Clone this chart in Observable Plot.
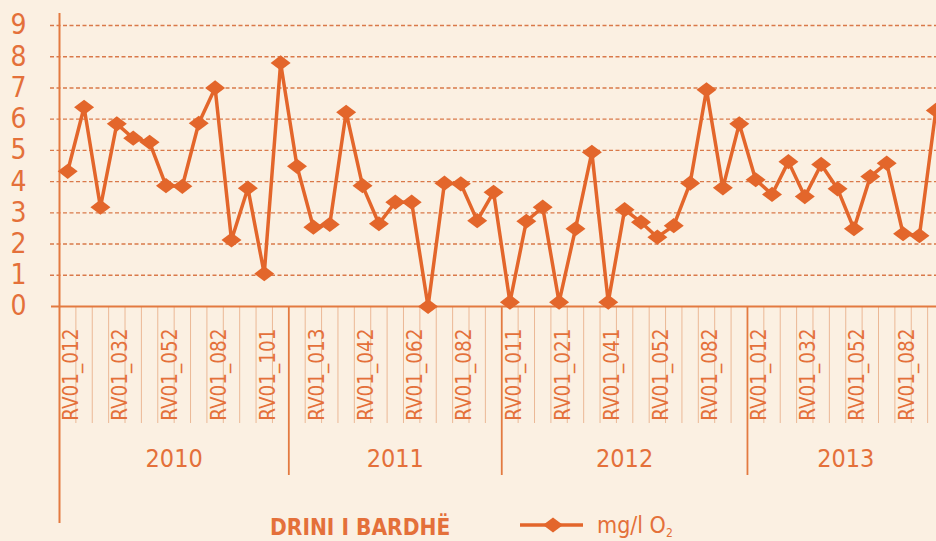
<!DOCTYPE html>
<html><head><meta charset="utf-8">
<script src="https://cdn.jsdelivr.net/npm/d3@7"></script>
<script src="https://cdn.jsdelivr.net/npm/@observablehq/plot@0.6"></script>
<style>
html,body{margin:0;padding:0;background:#fbf0e2;overflow:hidden;width:936px;height:541px}
#wrap{position:relative;width:936px;height:541px}
.lg{position:absolute;font-family:'Liberation Sans Narrow','DejaVu Sans Condensed','Roboto Condensed',sans-serif;color:#e4703a;white-space:nowrap;line-height:1}
</style></head><body><div id="wrap"></div>
<script>
// ---- data ----
const years = ["2010", "2011", "2012", "2013"];
const stations2010 = ["RV01_012","RV01_021","RV01_022","RV01_032","RV01_041","RV01_042","RV01_052","RV01_061","RV01_062","RV01_082","RV01_091","RV01_092","RV01_101","RV01_102"];
const stations2011 = ["RV01_011","RV01_013","RV01_021","RV01_032","RV01_042","RV01_052","RV01_061","RV01_062","RV01_071","RV01_081","RV01_082","RV01_091","RV01_101"];
const stations2012 = ["RV01_011","RV01_012","RV01_013","RV01_021","RV01_022","RV01_032","RV01_041","RV01_042","RV01_051","RV01_052","RV01_061","RV01_062","RV01_082","RV01_091","RV01_101"];
const stations2013 = ["RV01_012","RV01_021","RV01_022","RV01_032","RV01_041","RV01_042","RV01_052","RV01_061","RV01_062","RV01_082","RV01_091","RV01_092"];
const values2010 = [4.33, 6.38, 3.18, 5.85, 5.39, 5.26, 3.87, 3.85, 5.87, 7.0, 2.13, 3.79, 1.05, 7.8];
const values2011 = [4.49, 2.54, 2.63, 6.22, 3.87, 2.65, 3.34, 3.34, 0.0, 3.95, 3.93, 2.75, 3.66];
const values2012 = [0.14, 2.73, 3.18, 0.14, 2.49, 4.94, 0.14, 3.10, 2.70, 2.22, 2.59, 3.95, 6.94, 3.80, 5.85];
const values2013 = [4.06, 3.59, 4.64, 3.52, 4.55, 3.77, 2.49, 4.16, 4.59, 2.33, 2.27, 6.28];
const yTicks = [0, 1, 2, 3, 4, 5, 6, 7, 8, 9];
const labelEvery = 3;
const riverName = "DRINI I BARDHË";
const seriesName = "mg/l O";
const seriesSub = "2";

// ---- build table ----
const stationsByYear = [stations2010, stations2011, stations2012, stations2013];
const valuesByYear = [values2010, values2011, values2012, values2013];
const rows = [];
const yearSpans = [];
stationsByYear.forEach((st, k) => {
  const start = rows.length;
  st.forEach((s, j) => rows.push({i: rows.length, year: years[k], name: s, v: valuesByYear[k][j]}));
  yearSpans.push({year: years[k], start, end: rows.length - 1, mid: (start + rows.length - 1) / 2});
});
const n = rows.length;
const boundaries = d3.range(n - 1).map(i => i + 0.5).filter(b => !yearSpans.some(s => s.start - 0.5 === b));
const yearBounds = yearSpans.slice(1).map(s => s.start - 0.5);
const labelRows = rows.filter(r => r.i % labelEvery === 0);

// ---- style ----
const FF = "'Liberation Sans Narrow','DejaVu Sans Condensed','Roboto Condensed',sans-serif";
const LINE = "#e3662b";
const TXT = "#e4703a";
const GRID = "#d9794a";
const AXIS = "#e37a40";
const TICK = "#ebb896";
const step = 16.38, left = 59;

const wideDiamond = {draw(ctx, size) {
  const r = Math.sqrt(size / Math.PI);
  const w = r * 1.25, h = r * 0.95;
  ctx.moveTo(0, -h); ctx.lineTo(w, 0); ctx.lineTo(0, h); ctx.lineTo(-w, 0); ctx.closePath();
}};

const chart = Plot.plot({
  width: 936, height: 541,
  marginLeft: left, marginRight: 0, marginTop: 25, marginBottom: 235,
  style: {background: "transparent", fontFamily: FF, color: TXT, overflow: "visible", maxWidth: "none"},
  x: {type: "linear", domain: [-0.5, n - 0.5], range: [left, left + n * step], axis: null},
  y: {domain: [0, 9], axis: null},
  marks: [
    Plot.ruleY(yTicks.filter(v => v > 0), {y: d => d, stroke: GRID, strokeWidth: 1.4, strokeDasharray: "4,2.5", insetLeft: -9}),
    Plot.ruleX(boundaries, {x: d => d, stroke: TICK, strokeWidth: 1, insetTop: 281, insetBottom: -117}),
    Plot.ruleX(yearBounds, {x: d => d, stroke: AXIS, strokeWidth: 1.8, insetTop: 281, insetBottom: -169}),
    Plot.ruleX([-0.5], {x: d => d, stroke: AXIS, strokeWidth: 2, insetTop: -12, insetBottom: -217}),
    Plot.ruleY([0], {y: d => d, stroke: AXIS, strokeWidth: 2, insetLeft: -8}),
    Plot.axisY({ticks: yTicks, anchor: "left", label: null, tickSize: 0, tickPadding: 33, fontSize: 28, fill: TXT}),
    Plot.line(rows, {x: "i", y: "v", stroke: LINE, strokeWidth: 3.5}),
    Plot.dot(rows, {x: "i", y: "v", symbol: wideDiamond, r: 8, fill: LINE, stroke: "none"}),
    Plot.text(labelRows, {x: "i", text: "name", frameAnchor: "bottom", lineAnchor: "middle", rotate: -90, textAnchor: "end", dy: 22, dx: 4, fontSize: 20.5, fill: TXT}),
    Plot.text(yearSpans, {x: "mid", text: "year", frameAnchor: "bottom", lineAnchor: "middle", dy: 152, fontSize: 25, fill: TXT})
  ]
});
const wrap = document.getElementById("wrap");
wrap.appendChild(chart);

// ---- legend ----
const t = document.createElement("div");
t.className = "lg";
t.style.cssText = "left:270px;top:516px;font-size:22.5px;font-weight:bold;";
t.textContent = riverName;
wrap.appendChild(t);
const sw = document.createElementNS("http://www.w3.org/2000/svg", "svg");
sw.setAttribute("width", 66); sw.setAttribute("height", 20);
sw.style.cssText = "position:absolute;left:519px;top:515px;";
sw.innerHTML = `<line x1="1" x2="64" y1="10" y2="10" stroke="${LINE}" stroke-width="3.5"/><path d="M34,2.4L44,10L34,17.6L24,10Z" fill="${LINE}"/>`;
wrap.appendChild(sw);
const s = document.createElement("div");
s.className = "lg";
s.style.cssText = "left:597px;top:514px;font-size:23px;";
s.innerHTML = `${seriesName}<sub style="font-size:12px;vertical-align:-4px">${seriesSub}</sub>`;
wrap.appendChild(s);
</script></body></html>
